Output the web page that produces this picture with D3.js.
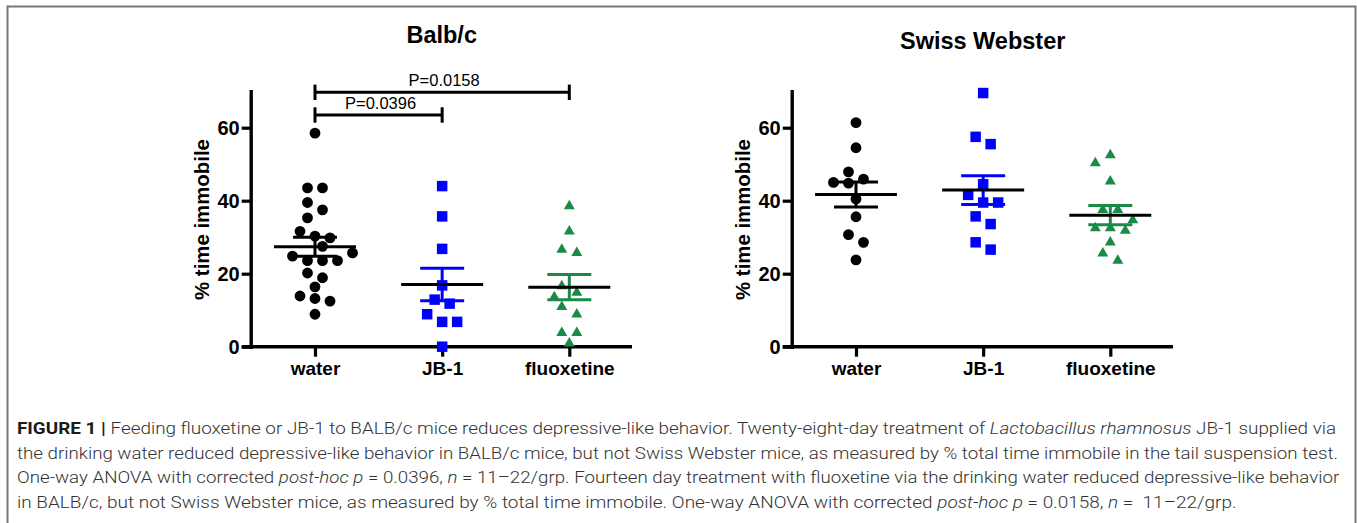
<!DOCTYPE html>
<html>
<head>
<meta charset="utf-8">
<script src="https://cdn.jsdelivr.net/npm/d3@7"></script>
<style>
  body { margin: 0; background: #fff; }
  svg text { font-family: "Liberation Sans", Arial, sans-serif; }
  .caption text { font-family: Roboto, "Liberation Sans", sans-serif; white-space: pre; }
</style>
</head>
<body>
<div id="chart-area"></div>
<script>
// groups and values (% time immobile)
const groups = ["water", "JB-1", "fluoxetine"]
const yTicks = [0, 20, 40, 60]

const balbWater = [58.5, 43.5, 43.5, 39.5, 37.5, 35.3, 31.6, 30.3, 29.8, 27.5, 25.7,
    24.8, 23.6, 23.6, 23.6, 20.2, 18.9, 16.4, 13.9, 13.2, 12.5, 8.9]
const balbJB1 = [44, 35.7, 26.8, 16.8, 12.9, 11.8, 8.9, 6.8, 6.8, 0]
const balbFluox = [38.5, 31.6, 26.6, 25.7, 16.6, 14.8, 13.6, 10.9, 8.9, 3.8, 3.8, 0.9]

const swissWater = [61.4, 54.5, 47.9, 45.9, 45.0, 44.8, 40.5, 35.6, 30.7, 28.6, 23.8]
const swissJB1 = [69.5, 57.5, 55.5, 44.5, 41.6, 39.5, 39.5, 35.7, 33.6, 28.6, 26.6]
const swissFluox = [52.5, 50.3, 45.3, 37.5, 37.5, 34.7, 32.5, 32.5, 31.8, 28.6, 25.6, 23.6]

// significance brackets (Balb/c only)
const compFrom = ["water", "water"]
const compTo = ["JB-1", "fluoxetine"]
const compLabel = ["P=0.0396", "P=0.0158"]

const captionLines = [
    [["FIGURE 1 | ", "b"], ["Feeding fluoxetine or JB-1 to BALB/c mice reduces depressive-like behavior. Twenty-eight-day treatment of ", ""], ["Lactobacillus rhamnosus", "i"], [" JB-1 supplied via", ""]],
    [["the drinking water reduced depressive-like behavior in BALB/c mice, but not Swiss Webster mice, as measured by % total time immobile in the tail suspension test.", ""]],
    [["One-way ANOVA with corrected ", ""], ["post-hoc p", "i"], [" = 0.0396, ", ""], ["n", "i"], [" = 11\u201322/grp. Fourteen day treatment with fluoxetine via the drinking water reduced depressive-like behavior", ""]],
    [["in BALB/c, but not Swiss Webster mice, as measured by % total time immobile. One-way ANOVA with corrected ", ""], ["post-hoc p", "i"], [" = 0.0158, ", ""], ["n", "i"], [" =  11\u201322/grp.", ""]]
]

const colors = { "water": "#000000", "JB-1": "#0000ff", "fluoxetine": "#1b8a47" }
const shapes = { "water": d3.symbolCircle, "JB-1": d3.symbolSquare, "fluoxetine": d3.symbolTriangle }
const sizes = { "water": 92, "JB-1": 110, "fluoxetine": 52 }

const W = 1357, H = 523
const svg = d3.select("#chart-area").append("svg")
    .attr("width", W)
    .attr("height", H)

// frame round the figure
svg.append("rect")
    .attr("x", 7.5).attr("y", 6.5)
    .attr("width", 1348).attr("height", 560)
    .attr("fill", "none")
    .attr("stroke", "#777")
    .attr("stroke-width", 2)

const y = d3.scaleLinear().domain([0, 70]).range([346.7, 91.2])
const x = d3.scalePoint().domain(groups).range([64.3, 318.6])

// Prism-like scatter layout: rows of close values, centred, biggest rows first, no overlaps
function swarm(values, step, gap) {
    const pts = values.map(v => ({ v, py: y(v) })).sort((a, b) => a.py - b.py)
    const rows = []
    pts.forEach(p => {
        const last = rows[rows.length - 1]
        if (last && p.py - last[0].py < 8) last.push(p)
        else rows.push([p])
    })
    const placed = []
    const shifts = d3.range(-6, 7).map(k => k * step / 2)
    rows.slice().sort((a, b) => b.length - a.length).forEach(row => {
        const n = row.length
        const opts = []
        ;[1, 2, 3].forEach(k => shifts.forEach(s => {
            opts.push(row.map((p, i) => (i - (n - 1) / 2) * step * k + s))
        }))
        opts.sort((a, b) => d3.sum(a, d => d * d) - d3.sum(b, d => d * d))
        const ok = opts.find(o => row.every((p, i) =>
            placed.every(q => Math.hypot(q.dx - o[i], q.py - p.py) >= gap)))
        const best = ok || opts[0]
        row.forEach((p, i) => { p.dx = best[i]; placed.push(p) })
    })
    return pts
}

const panels = [
    { title: "Balb/c", x0: 250.7, titleY: 43.3, sets: [balbWater, balbJB1, balbFluox], brackets: true },
    { title: "Swiss Webster", x0: 791.7, titleY: 48.5, sets: [swissWater, swissJB1, swissFluox], brackets: false }
]

panels.forEach(panel => {
    const g = svg.append("g").attr("transform", `translate(${panel.x0}, 0)`)

    // title
    g.append("text")
        .attr("x", 191)
        .attr("y", panel.titleY)
        .attr("text-anchor", "middle")
        .style("font-size", "23.5px")
        .style("font-weight", "bold")
        .text(panel.title)

    // y axis
    const yAxis = g.append("g")
        .call(d3.axisLeft(y).tickValues(yTicks).tickSize(9).tickSizeOuter(0).tickPadding(2))
    yAxis.select(".domain").attr("stroke", "#000").attr("stroke-width", 3.4).attr("stroke-linecap", "square")
    yAxis.selectAll(".tick line").attr("stroke", "#000").attr("stroke-width", 3.2)
    yAxis.selectAll(".tick text")
        .attr("fill", "#000")
        .style("font-size", "20px")
        .style("font-weight", "bold")
        .style("font-family", "'Liberation Sans', Arial, sans-serif")

    // x axis line and ticks
    g.append("line")
        .attr("x1", -9).attr("x2", 381.3)
        .attr("y1", y(0)).attr("y2", y(0))
        .attr("stroke", "#000").attr("stroke-width", 3.4)
    const xAxis = g.append("g")
        .attr("transform", `translate(0, ${y(0)})`)
        .call(d3.axisBottom(x).tickSize(10).tickPadding(4.5))
    xAxis.select(".domain").remove()
    xAxis.selectAll(".tick line").attr("stroke", "#000").attr("stroke-width", 3.2)
    xAxis.selectAll(".tick text")
        .attr("fill", "#000")
        .style("font-size", "19px")
        .style("font-weight", "bold")
        .style("font-family", "'Liberation Sans', Arial, sans-serif")

    // y axis title
    g.append("text")
        .attr("transform", `translate(-41.4, 219.5) rotate(-90)`)
        .attr("text-anchor", "middle")
        .style("font-size", "20.4px")
        .style("font-weight", "bold")
        .text("% time immobile")

    // points
    groups.forEach((grp, gi) => {
        const vals = panel.sets[gi]
        const pts = swarm(vals, 15, 11)
        g.append("g").selectAll("path")
            .data(pts)
            .enter()
            .append("path")
            .attr("d", d3.symbol(shapes[grp], sizes[grp]))
            .attr("transform", d => `translate(${x(grp) + d.dx}, ${d.py})`)
            .attr("fill", colors[grp])
    })

    // mean and SEM
    groups.forEach((grp, gi) => {
        const vals = panel.sets[gi]
        const m = d3.mean(vals)
        const sem = d3.deviation(vals) / Math.sqrt(vals.length)
        const cx = x(grp)
        const eb = g.append("g").attr("stroke", colors[grp]).attr("stroke-width", 3)
        eb.append("line").attr("x1", cx).attr("x2", cx).attr("y1", y(m + sem)).attr("y2", y(m - sem))
        eb.append("line").attr("x1", cx - 22).attr("x2", cx + 22).attr("y1", y(m + sem)).attr("y2", y(m + sem))
        eb.append("line").attr("x1", cx - 22).attr("x2", cx + 22).attr("y1", y(m - sem)).attr("y2", y(m - sem))
        g.append("line")
            .attr("x1", cx - 41).attr("x2", cx + 41)
            .attr("y1", y(m)).attr("y2", y(m))
            .attr("stroke", "#000").attr("stroke-width", 3)
    })

    if (panel.brackets) {
        compLabel.forEach((lab, i) => {
            const x1 = x(compFrom[i]), x2 = x(compTo[i])
            const by = 115 - i * 22.7
            const b = g.append("g").attr("stroke", "#000").attr("stroke-width", 3)
            b.append("line").attr("x1", x1).attr("x2", x2).attr("y1", by).attr("y2", by)
            b.append("line").attr("x1", x1).attr("x2", x1).attr("y1", by - 7.7).attr("y2", by + 7.7)
            b.append("line").attr("x1", x2).attr("x2", x2).attr("y1", by - 7.7).attr("y2", by + 7.7)
            g.append("text")
                .attr("x", (x1 + x2) / 2 + 2)
                .attr("y", by - 6.5)
                .attr("text-anchor", "middle")
                .style("font-size", "16.5px")
                .text(lab)
        })
    }
})

// caption, each line stretched to the width it has in the figure
const capEnds = [1337, 1339, 1340, 1237]
const cap = svg.append("g").attr("class", "caption")
captionLines.forEach((parts, li) => {
    const t = cap.append("text")
        .attr("x", 0).attr("y", 0)
        .style("font-size", "16px")
        .style("font-weight", 300)
        .attr("fill", "#333")
    parts.forEach(([txt, st]) => {
        const sp = t.append("tspan").text(txt)
        if (st === "b") sp.style("font-weight", "bold").attr("fill", "#1a1a1a")
        if (st === "i") sp.style("font-style", "italic")
    })
    const len = t.node().getComputedTextLength()
    const sx = (capEnds[li] - 17) / len
    t.attr("transform", `translate(17, ${434.3 + li * 24.4}) scale(${sx}, 1)`)
})
</script>
</body>
</html>
